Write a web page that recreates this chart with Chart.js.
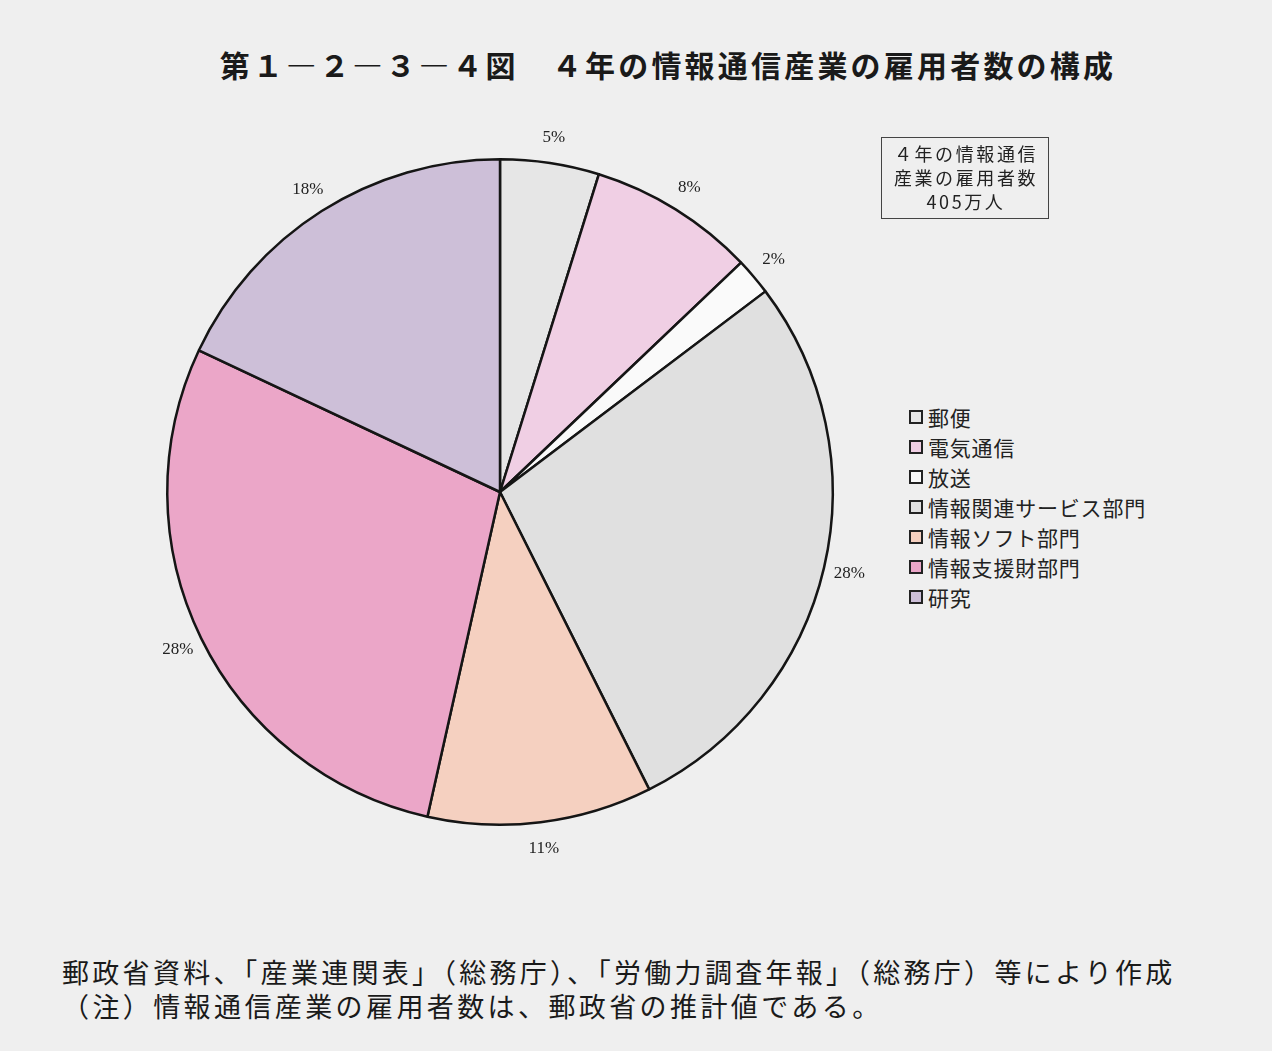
<!DOCTYPE html>
<html lang="ja">
<head>
<meta charset="utf-8">
<script src="https://cdn.jsdelivr.net/npm/chart.js@4.4.0/dist/chart.umd.min.js"></script>
<style>
  html, body { margin: 0; padding: 0; }
  body { width: 1272px; height: 1051px; background: #efefef; position: relative; overflow: hidden;
         font-family: "Noto Sans CJK JP", sans-serif; color: #222; }
  #title { position: absolute; left: 0; width: 1336px; top: 42px; text-align: center;
           font-size: 30px; font-weight: bold; letter-spacing: 3.2px; color: #1a1a1a; }
  #wrap { position: absolute; left: 100px; top: 92px; width: 800px; height: 800px; }
  #totalBox { position: absolute; left: 881px; top: 137px; width: 168px; height: 82px;
              border: 1.5px solid #444; text-align: center; font-size: 18px; line-height: 24px;
              letter-spacing: 2.6px; padding-top: 3px; padding-left: 2px; box-sizing: border-box; }
  #legend { position: absolute; left: 909px; top: 402px; font-size: 21px; line-height: 30px; letter-spacing: 0.8px; }
  #legend .item { display: flex; align-items: center; white-space: nowrap; }
  #legend .sw { width: 10px; height: 10px; border: 2px solid #222; margin-right: 5px; }
  .note { position: absolute; left: 62px; font-size: 27px; white-space: nowrap; color: #1a1a1a; }
</style>
</head>
<body>
<div id="title">第１―２―３―４図　４年の情報通信産業の雇用者数の構成</div>
<div id="wrap"><canvas id="pie" width="800" height="800"></canvas></div>
<div id="totalBox">４年の情報通信<br>産業の雇用者数<br>405万人</div>
<div id="legend"></div>
<div class="note" style="top:952px; letter-spacing:3.3px;">郵政省資料、「産業連関表」（総務庁）、「労働力調査年報」（総務庁）等により作成</div>
<div class="note" style="top:986px; letter-spacing:3.4px;">（注）情報通信産業の雇用者数は、郵政省の推計値である。</div>
<script>
// ── Data ──
const categories = ['郵便', '電気通信', '放送', '情報関連サービス部門', '情報ソフト部門', '情報支援財部門', '研究'];
const shares = [4.8, 8.1, 1.8, 27.9, 10.9, 28.5, 18.0];
const pctLabels = ['5%', '8%', '2%', '28%', '11%', '28%', '18%'];
const sliceColors = ['#e6e6e6', '#f0cfe4', '#fafafa', '#e0e0e0', '#f5d0c0', '#eba6c8', '#cdbfd8'];

// ── Percent labels outside each slice ──
const outsideLabels = {
  id: 'outsideLabels',
  afterDatasetsDraw(chart) {
    const ctx = chart.ctx;
    const meta = chart.getDatasetMeta(0);
    ctx.save();
    ctx.font = '17px "Liberation Serif", serif';
    ctx.fillStyle = '#222';
    ctx.textAlign = 'center';
    ctx.textBaseline = 'middle';
    meta.data.forEach((arc, i) => {
      const p = arc.getProps(['x', 'y', 'startAngle', 'endAngle', 'outerRadius'], true);
      const mid = (p.startAngle + p.endAngle) / 2;
      const r = p.outerRadius + 26;
      ctx.fillText(pctLabels[i], p.x + Math.cos(mid) * r, p.y + Math.sin(mid) * r);
    });
    ctx.restore();
  }
};

new Chart(document.getElementById('pie'), {
  type: 'pie',
  data: {
    labels: categories,
    datasets: [{
      data: shares,
      backgroundColor: sliceColors,
      borderColor: '#151515',
      borderWidth: 2.5
    }]
  },
  options: {
    responsive: false,
    animation: false,
    layout: { padding: 66 },
    plugins: {
      legend: { display: false },
      tooltip: { enabled: false }
    }
  },
  plugins: [outsideLabels]
});

// ── HTML legend ──
const legend = document.getElementById('legend');
categories.forEach((name, i) => {
  const row = document.createElement('div');
  row.className = 'item';
  row.innerHTML = '<span class="sw" style="background:' + sliceColors[i] + '"></span><span>' + name + '</span>';
  legend.appendChild(row);
});
</script>
</body>
</html>
